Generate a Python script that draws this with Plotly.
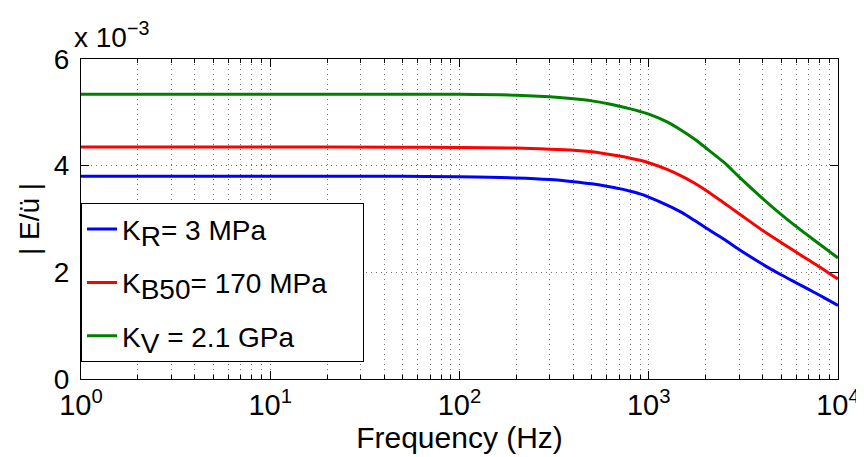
import plotly.graph_objects as go

# Frequency (Hz)
freq = [1, 10, 50, 100, 200, 300, 400, 500, 600, 700, 800, 900, 1000,
        1250, 1500, 1750, 2000, 2500, 3000, 4000, 5000, 6000, 7000, 8000, 9000, 10000]

# |E/ü| values in units of 1e-3
k_r = [3.80, 3.80, 3.80, 3.79, 3.77, 3.74, 3.70, 3.66, 3.615, 3.57, 3.52, 3.47, 3.41,
       3.26, 3.12, 2.97, 2.835, 2.62, 2.43, 2.15, 1.955, 1.805, 1.68, 1.57, 1.47, 1.38]
k_b50 = [4.35, 4.35, 4.345, 4.34, 4.33, 4.31, 4.29, 4.26, 4.22, 4.18, 4.14, 4.10, 4.055,
         3.93, 3.80, 3.67, 3.54, 3.30, 3.10, 2.785, 2.56, 2.38, 2.23, 2.10, 1.98, 1.875]
k_v = [5.34, 5.34, 5.34, 5.34, 5.32, 5.29, 5.255, 5.215, 5.165, 5.115, 5.065, 5.015, 4.965,
       4.82, 4.655, 4.495, 4.335, 4.06, 3.79, 3.384, 3.088, 2.862, 2.681, 2.527, 2.391, 2.27]

LEG_SIZE = 28
PAD = "\u00a0" * 4
series_names = [
    f"K<sub><span style='font-size:{LEG_SIZE}px'>R</span></sub>= 3 MPa{PAD}",
    f"K<sub><span style='font-size:{LEG_SIZE}px'>B50</span></sub>= 170 MPa{PAD}",
    f"K<sub><span style='font-size:{LEG_SIZE}px'>V</span></sub> = 2.1 GPa{PAD}",
]
series_values = [k_r, k_b50, k_v]
series_colors = ["#0000FF", "#FF0000", "#008000"]

x_tick_vals = [1, 10, 100, 1000, 10000]
x_tick_text = ["10<sup>0</sup>", "10<sup>1</sup>", "10<sup>2</sup>", "10<sup>3</sup>", "10<sup>4</sup>"]
x_minor_vals = [m * d for d in [1, 10, 100, 1000] for m in range(2, 10)]
y_tick_vals = [0, 2, 4, 6]
y_tick_text = ["0", "2", "4", "6"]

FONT = "Liberation Sans, Arial, Helvetica, sans-serif"
GRID = "rgba(0,0,0,0.55)"

fig = go.Figure()
for i, (name, vals, col) in enumerate(zip(series_names, series_values, series_colors)):
    fig.add_trace(go.Scatter(
        x=freq, y=vals, mode="lines", name=name, legendgroup=f"g{i}",
        line=dict(color=col, width=3, shape="spline", smoothing=0.8),
    ))

fig.update_layout(
    width=864, height=457,
    margin=dict(l=73, r=26, t=51, b=86),
    paper_bgcolor="white", plot_bgcolor="white",
    font=dict(family=FONT, color="black"),
    showlegend=True,
    legend=dict(
        x=0.0, y=0.549, xanchor="left", yanchor="top",
        bgcolor="white", bordercolor="black", borderwidth=1,
        font=dict(family=FONT, size=LEG_SIZE, color="black"),
        tracegroupgap=14,
    ),
    xaxis=dict(
        type="log", range=[0, 4],
        tickmode="array", tickvals=x_tick_vals, ticktext=x_tick_text,
        ticks="inside", ticklen=8, tickcolor="black", tickwidth=1,
        showline=True, linecolor="black", linewidth=1, mirror="allticks",
        showgrid=True, gridcolor=GRID, griddash="1px,4px", gridwidth=1,
        tickfont=dict(family=FONT, size=29, color="black"),
        minor=dict(tickmode="array", tickvals=x_minor_vals, ticks="inside", ticklen=4,
                   tickcolor="black", showgrid=True, gridcolor=GRID,
                   griddash="1px,4px", gridwidth=1),
        title=dict(text="Frequency (Hz)", font=dict(family=FONT, size=30, color="black"),
                   standoff=2),
        zeroline=False,
    ),
    yaxis=dict(
        range=[0, 6],
        tickmode="array", tickvals=y_tick_vals, ticktext=y_tick_text,
        ticks="inside", ticklen=8, tickcolor="black", tickwidth=1,
        showline=True, linecolor="black", linewidth=1, mirror="allticks",
        showgrid=True, gridcolor=GRID, griddash="1px,4px", gridwidth=1,
        tickfont=dict(family=FONT, size=28, color="black"),
        ticklabelstandoff=5,
        title=dict(text="| E/ü |", font=dict(family=FONT, size=28, color="black"),
                   standoff=6),
        zeroline=False,
    ),
)

fig.add_annotation(
    text="x 10<sup>−3</sup>", xref="paper", yref="paper", x=0, y=1,
    xanchor="left", yanchor="bottom", showarrow=False,
    font=dict(family=FONT, size=28, color="black"), yshift=4, xshift=-9,
)

fig.write_html("out.html")
